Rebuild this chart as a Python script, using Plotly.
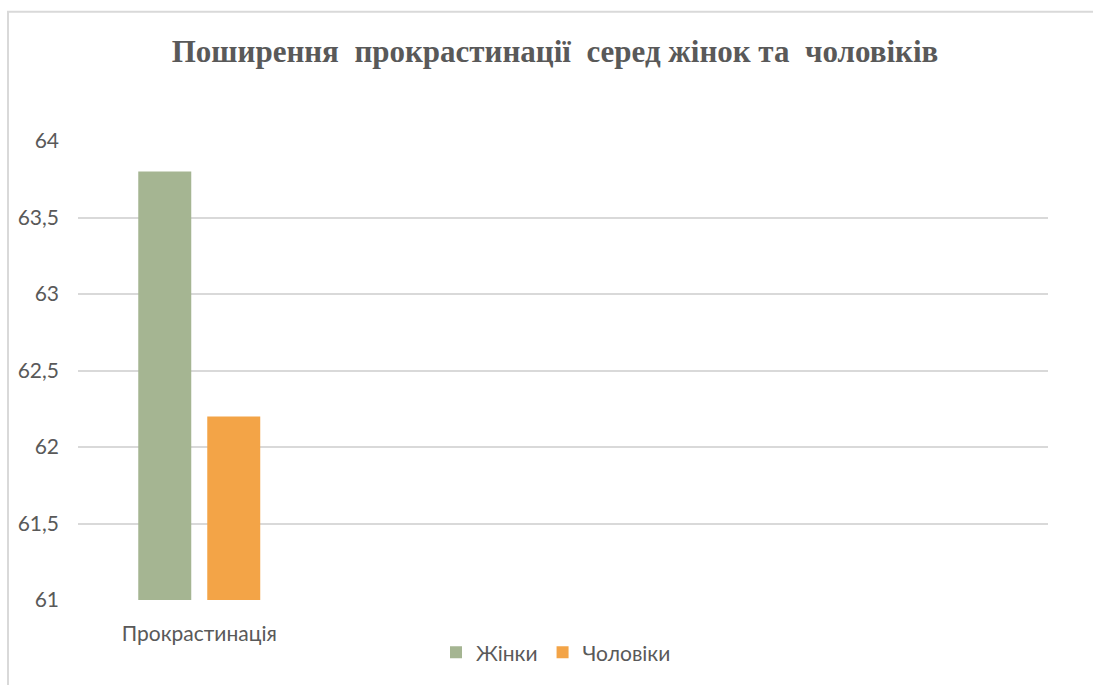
import plotly.graph_objects as go

# Data
categories = ["Прокрастинація"]
women = [63.8]
men = [62.2]
series_names = ["Жінки", "Чоловіки"]
title_text = "Поширення\u00a0 прокрастинації\u00a0 серед жінок та\u00a0 чоловіків"

W, H = 1093, 685
ML, MR, MT, MB = 78, 45, 141, 82
PW, PH = W - ML - MR, H - MT - MB

TEXT = "#595959"
GRID = "#d9d9d9"
FONT = "Lato, 'Open Sans', sans-serif"
FS = 21

fig = go.Figure()
fig.add_trace(go.Bar(x=categories, y=women, name=series_names[0],
                     marker=dict(color="#A5B592", line=dict(width=0))))
fig.add_trace(go.Bar(x=categories, y=men, name=series_names[1],
                     marker=dict(color="#F3A447", line=dict(width=0))))

def px_x(p):
    return (p - ML) / PW

def px_y(p):
    return (H - MB - p) / PH

fig.update_layout(
    width=W, height=H,
    margin=dict(l=ML, r=MR, t=MT, b=MB),
    paper_bgcolor="white", plot_bgcolor="white",
    separators=", ",
    barmode="group", bargap=0.431, bargroupgap=0.232,
    title=dict(text=f"<b>{title_text}</b>", x=555 / W, xref="container", xanchor="center",
               y=1 - 51 / H, yanchor="middle",
               font=dict(family="'Liberation Serif', 'Times New Roman', serif",
                         size=31, color=TEXT)),
    font=dict(family=FONT, size=FS, color=TEXT),
    legend=dict(orientation="h", x=px_x(556), xanchor="center",
                y=px_y(656), yanchor="middle",
                font=dict(family=FONT, size=FS, color=TEXT),
                itemwidth=30, traceorder="normal"),
    xaxis=dict(type="category", range=[-0.5, 3.5], showgrid=False,
               showline=False, zeroline=False, ticks="",
               ticklabelstandoff=19,
               tickfont=dict(family=FONT, size=FS, color=TEXT)),
    yaxis=dict(range=[61, 64], dtick=0.5, tick0=61, showgrid=True,
               gridcolor=GRID, gridwidth=2, zeroline=False, showline=False,
               ticks="", ticklabelstandoff=18,
               tickfont=dict(family=FONT, size=FS, color=TEXT)),
    shapes=[dict(type="rect", xref="paper", yref="paper",
                 x0=px_x(8), x1=px_x(1110), y0=px_y(11), y1=px_y(700),
                 line=dict(color=GRID, width=2), fillcolor="rgba(0,0,0,0)",
                 layer="below")],
    showlegend=True,
)

fig.write_html("out.html")
